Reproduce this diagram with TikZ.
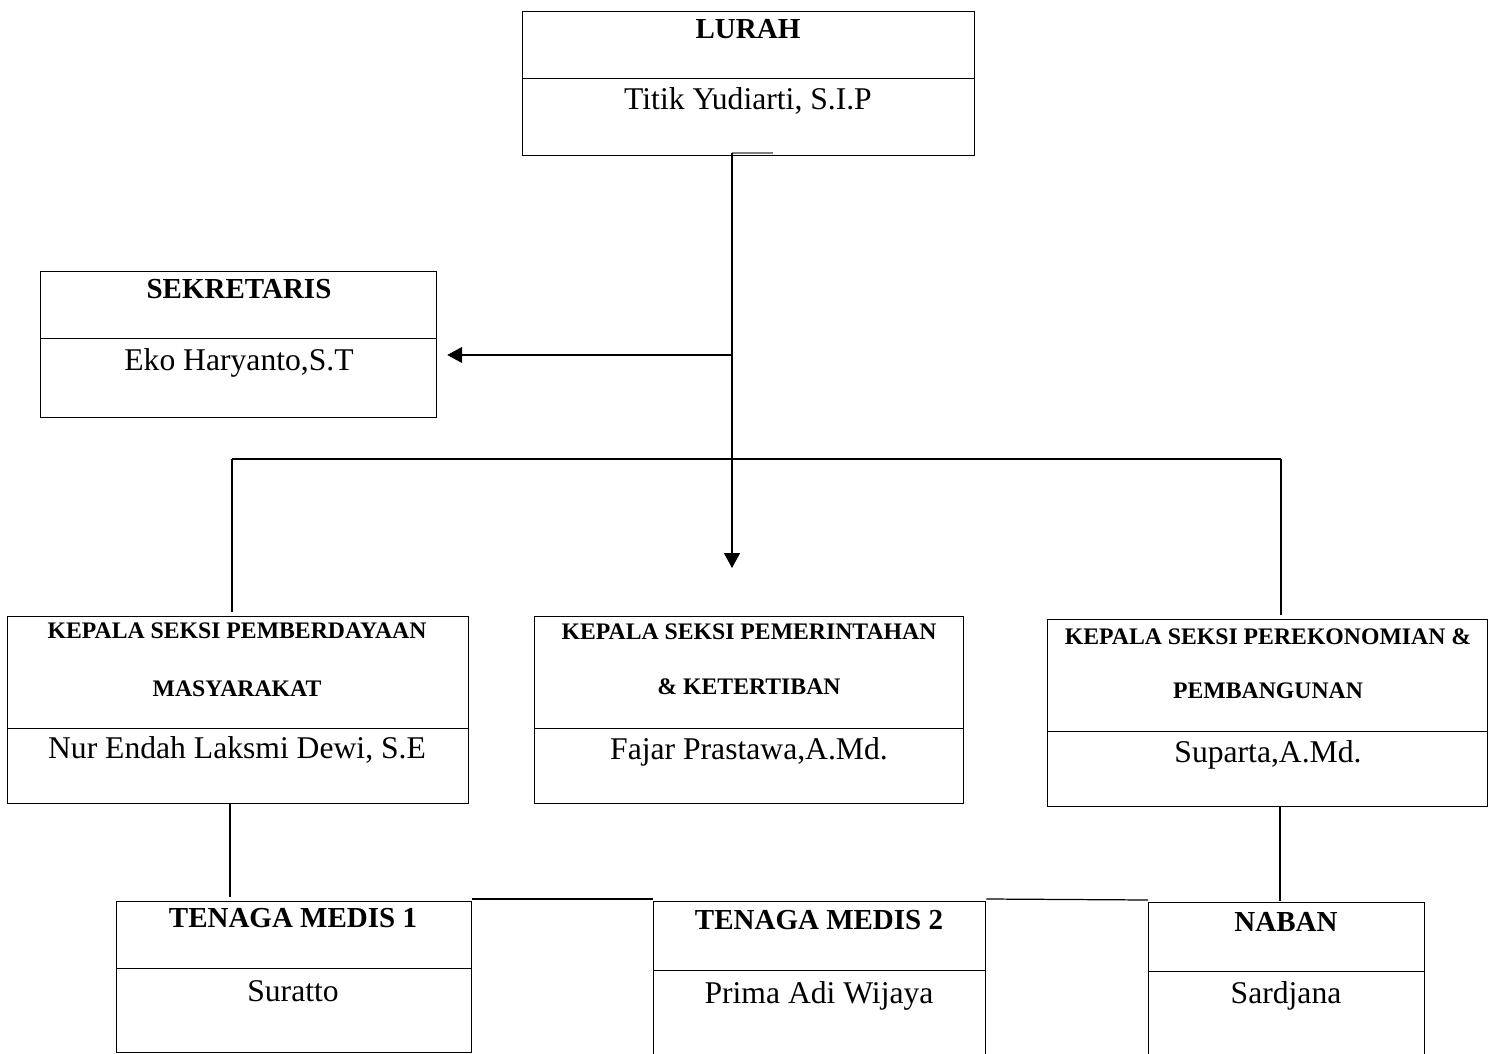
\documentclass[tikz,border=0pt]{standalone}
\usepackage{fontspec}
\setmainfont{Liberation Serif}
\usetikzlibrary{arrows.meta}

\begin{document}
\begin{tikzpicture}
  [x=0.2mm,y=-0.2mm,line width=0.7pt,
   >={Triangle[length=3mm,width=3.2mm]},
   cell/.style={rectangle,draw,anchor=north west,inner sep=0pt},
   head/.style={anchor=base,font=\fontsize{16.5}{19}\selectfont\bfseries},
   subhead/.style={anchor=base,font=\fontsize{13.5}{16}\selectfont\bfseries},
   person/.style={anchor=base,font=\fontsize{18}{21}\selectfont}]

  \useasboundingbox (0,0) rectangle (1499,1054);
  \clip (0,0) rectangle (1499,1054);

  % lurah
  \node[cell,minimum width=90.4mm,minimum height=13.4mm] (lurahA) at (522,11) {};
  \node[cell,minimum width=90.4mm,minimum height=15.4mm] (lurahB) at (522,78) {};
  \node[head] (lurahT) at (748,39) {LURAH};
  \node[person] (lurahN) at (748,110) {Titik Yudiarti, S.I.P};

  % sekretaris
  \node[cell,minimum width=79.2mm,minimum height=13.4mm] (sekA) at (40,271) {};
  \node[cell,minimum width=79.2mm,minimum height=15.8mm] (sekB) at (40,338) {};
  \node[head] (sekT) at (239,299) {SEKRETARIS};
  \node[person] (sekN) at (239,371) {Eko Haryanto,S.T};

  % kepala seksi
  \node[cell,minimum width=92.2mm,minimum height=22.4mm] (kpmA) at (7,616) {};
  \node[cell,minimum width=92.2mm,minimum height=15mm] (kpmB) at (7,728) {};
  \node[subhead] (kpmT) at (237,638) {KEPALA SEKSI PEMBERDAYAAN};
  \node[subhead] (kpmU) at (237,696) {MASYARAKAT};
  \node[person] (kpmN) at (237,758) {Nur Endah Laksmi Dewi, S.E};

  \node[cell,minimum width=85.8mm,minimum height=22.4mm] (kppA) at (534,616) {};
  \node[cell,minimum width=85.8mm,minimum height=15mm] (kppB) at (534,728) {};
  \node[subhead] (kppT) at (749,639) {KEPALA SEKSI PEMERINTAHAN};
  \node[subhead] (kppU) at (749,694) {\& KETERTIBAN};
  \node[person] (kppN) at (749,759) {Fajar Prastawa,A.Md.};

  \node[cell,minimum width=88mm,minimum height=22.4mm] (kpeA) at (1047,619) {};
  \node[cell,minimum width=88mm,minimum height=15mm] (kpeB) at (1047,731) {};
  \node[subhead] (kpeT) at (1268,644) {KEPALA SEKSI PEREKONOMIAN \&};
  \node[subhead] (kpeU) at (1268,698) {PEMBANGUNAN};
  \node[person] (kpeN) at (1268,762) {Suparta,A.Md.};

  % staf
  \node[cell,minimum width=71mm,minimum height=13.4mm] (med1A) at (116,901) {};
  \node[cell,minimum width=71mm,minimum height=16.8mm] (med1B) at (116,968) {};
  \node[head] (med1T) at (293,927) {TENAGA MEDIS 1};
  \node[person] (med1N) at (293,1001) {Suratto};

  \node[cell,minimum width=66.4mm,minimum height=13.8mm] (med2A) at (653,901) {};
  \node[cell,minimum width=66.4mm,minimum height=19mm] (med2B) at (653,970) {};
  \node[head] (med2T) at (819,929) {TENAGA MEDIS 2};
  \node[person] (med2N) at (819,1003) {Prima Adi Wijaya};

  \node[cell,minimum width=55.2mm,minimum height=13.8mm] (nabA) at (1148,902) {};
  \node[cell,minimum width=55.2mm,minimum height=19mm] (nabB) at (1148,971) {};
  \node[head] (nabT) at (1286,931) {NABAN};
  \node[person] (nabN) at (1286,1003) {Sardjana};

  % garis
  \coordinate (lurahjoin) at (732,153);
  \coordinate (lurahstub) at (773,153);
  \coordinate (sekjoin) at (732,355);
  \coordinate (midtip) at (732,568);
  \coordinate (busL) at (232,459);
  \coordinate (busR) at (1281,459);
  \coordinate (medjoin) at (230,803);
  \coordinate (nabjoin) at (1280,806);

  \draw[gray] (lurahjoin) -- (lurahstub);
  \draw[->] (lurahjoin) -- (midtip);
  \draw[->,shorten >=2mm] (sekjoin) -- (sekjoin -| sekB.east);
  \draw (busL) -- (busR);
  \draw[shorten >=0.8mm] (busL) -- (busL |- kpmA.north);
  \draw[shorten >=0.8mm] (busR) -- (busR |- kpeA.north);
  \draw[shorten >=0.8mm] (medjoin) -- (medjoin |- med1A.north);
  \draw[shorten >=0.2mm] (nabjoin) -- (nabjoin |- nabA.north);
  \draw ([yshift=0.4mm]med1A.north east) -- ([yshift=0.4mm]med2A.north west);
  \draw ([yshift=0.4mm]med2A.north east) -- ([yshift=0.4mm]nabA.north west);

\end{tikzpicture}
\end{document}
